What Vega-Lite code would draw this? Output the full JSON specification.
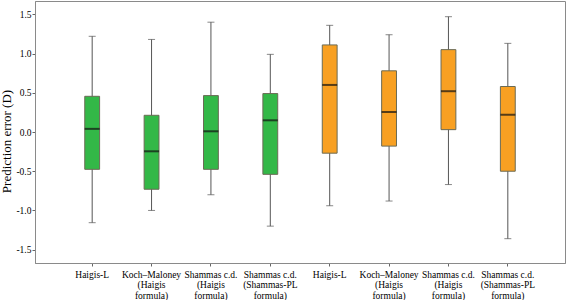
{
  "$schema": "https://vega.github.io/schema/vega-lite/v6.json",
  "autosize": "none",
  "width": 530,
  "height": 262,
  "padding": {"left": 35, "top": 1, "right": 2, "bottom": 37},
  "background": "white",
  "config": {
    "view": {"stroke": "#8a8a8a", "strokeWidth": 1},
    "font": "Liberation Serif"
  },
  "data": {
    "values": [
      {"id": 1, "method": "Haigis-L", "group": "A", "lower": -1.156, "q1": -0.476, "median": 0.04, "q3": 0.455, "upper": 1.22},
      {"id": 2, "method": "Koch–Maloney (Haigis formula)", "group": "A", "lower": -1.0, "q1": -0.73, "median": -0.246, "q3": 0.213, "upper": 1.18},
      {"id": 3, "method": "Shammas c.d. (Haigis formula)", "group": "A", "lower": -0.8, "q1": -0.476, "median": 0.009, "q3": 0.464, "upper": 1.4},
      {"id": 4, "method": "Shammas c.d. (Shammas-PL formula)", "group": "A", "lower": -1.2, "q1": -0.54, "median": 0.149, "q3": 0.49, "upper": 0.99},
      {"id": 5, "method": "Haigis-L", "group": "B", "lower": -0.94, "q1": -0.27, "median": 0.6, "q3": 1.11, "upper": 1.36},
      {"id": 6, "method": "Koch–Maloney (Haigis formula)", "group": "B", "lower": -0.88, "q1": -0.18, "median": 0.255, "q3": 0.78, "upper": 1.24},
      {"id": 7, "method": "Shammas c.d. (Haigis formula)", "group": "B", "lower": -0.67, "q1": 0.03, "median": 0.52, "q3": 1.05, "upper": 1.47},
      {"id": 8, "method": "Shammas c.d. (Shammas-PL formula)", "group": "B", "lower": -1.36, "q1": -0.5, "median": 0.22, "q3": 0.58, "upper": 1.13}
    ]
  },
  "encoding": {
    "x": {
      "field": "id",
      "type": "ordinal",
      "scale": {"paddingInner": 0.75, "paddingOuter": 0.838},
      "axis": {
        "title": null,
        "labelAngle": 0,
        "labelFont": "Liberation Serif",
        "labelFontSize": 9.5,
        "labelFontWeight": "normal",
        "labelColor": "#000",
        "labelPadding": 3,
        "labelLineHeight": 10.5,
        "labelBaseline": "top",
        "tickSize": 3,
        "tickColor": "#666",
        "domainColor": "#8a8a8a",
        "labelExpr": "[['Haigis-L'], ['Koch–Maloney', '(Haigis', 'formula)'], ['Shammas c.d.', '(Haigis', 'formula)'], ['Shammas c.d.', '(Shammas-PL', 'formula)'], ['Haigis-L'], ['Koch–Maloney', '(Haigis', 'formula)'], ['Shammas c.d.', '(Haigis', 'formula)'], ['Shammas c.d.', '(Shammas-PL', 'formula)']][datum.value - 1]"
      }
    }
  },
  "layer": [
    {
      "mark": {"type": "rule", "color": "#555", "strokeWidth": 1},
      "encoding": {
        "y": {
          "field": "lower",
          "type": "quantitative",
          "scale": {"domain": [-1.67, 1.67], "nice": false, "zero": false},
          "axis": {
            "title": "Prediction error (D)",
            "titleFont": "Liberation Serif",
            "titleFontSize": 13,
            "titleFontWeight": "normal",
            "titleColor": "#000",
            "titleX": -22,
            "titleY": 140,
            "titleBaseline": "bottom",
            "values": [-1.5, -1, -0.5, 0, 0.5, 1, 1.5],
            "labelExpr": "replace(format(datum.value, '.1f'), '−', '-')",
            "labelFont": "Liberation Serif",
            "labelFontSize": 9.5,
            "labelColor": "#000",
            "labelPadding": 1,
            "tickSize": 3,
            "tickColor": "#666",
            "domainColor": "#8a8a8a",
            "grid": false
          }
        },
        "y2": {"field": "upper"}
      }
    },
    {
      "mark": {"type": "tick", "color": "#555", "size": 7, "thickness": 1},
      "encoding": {"y": {"field": "upper", "type": "quantitative"}}
    },
    {
      "mark": {"type": "tick", "color": "#555", "size": 7, "thickness": 1},
      "encoding": {"y": {"field": "lower", "type": "quantitative"}}
    },
    {
      "mark": {"type": "bar", "strokeWidth": 1, "stroke": "#6b6b55", "opacity": 1},
      "encoding": {
        "y": {"field": "q1", "type": "quantitative"},
        "y2": {"field": "q3"},
        "color": {
          "field": "group",
          "type": "nominal",
          "scale": {"domain": ["A", "B"], "range": ["#33b847", "#f8a022"]},
          "legend": null
        }
      }
    },
    {
      "mark": {"type": "tick", "color": "#111", "size": 15, "thickness": 2},
      "encoding": {"y": {"field": "median", "type": "quantitative"}}
    }
  ]
}
